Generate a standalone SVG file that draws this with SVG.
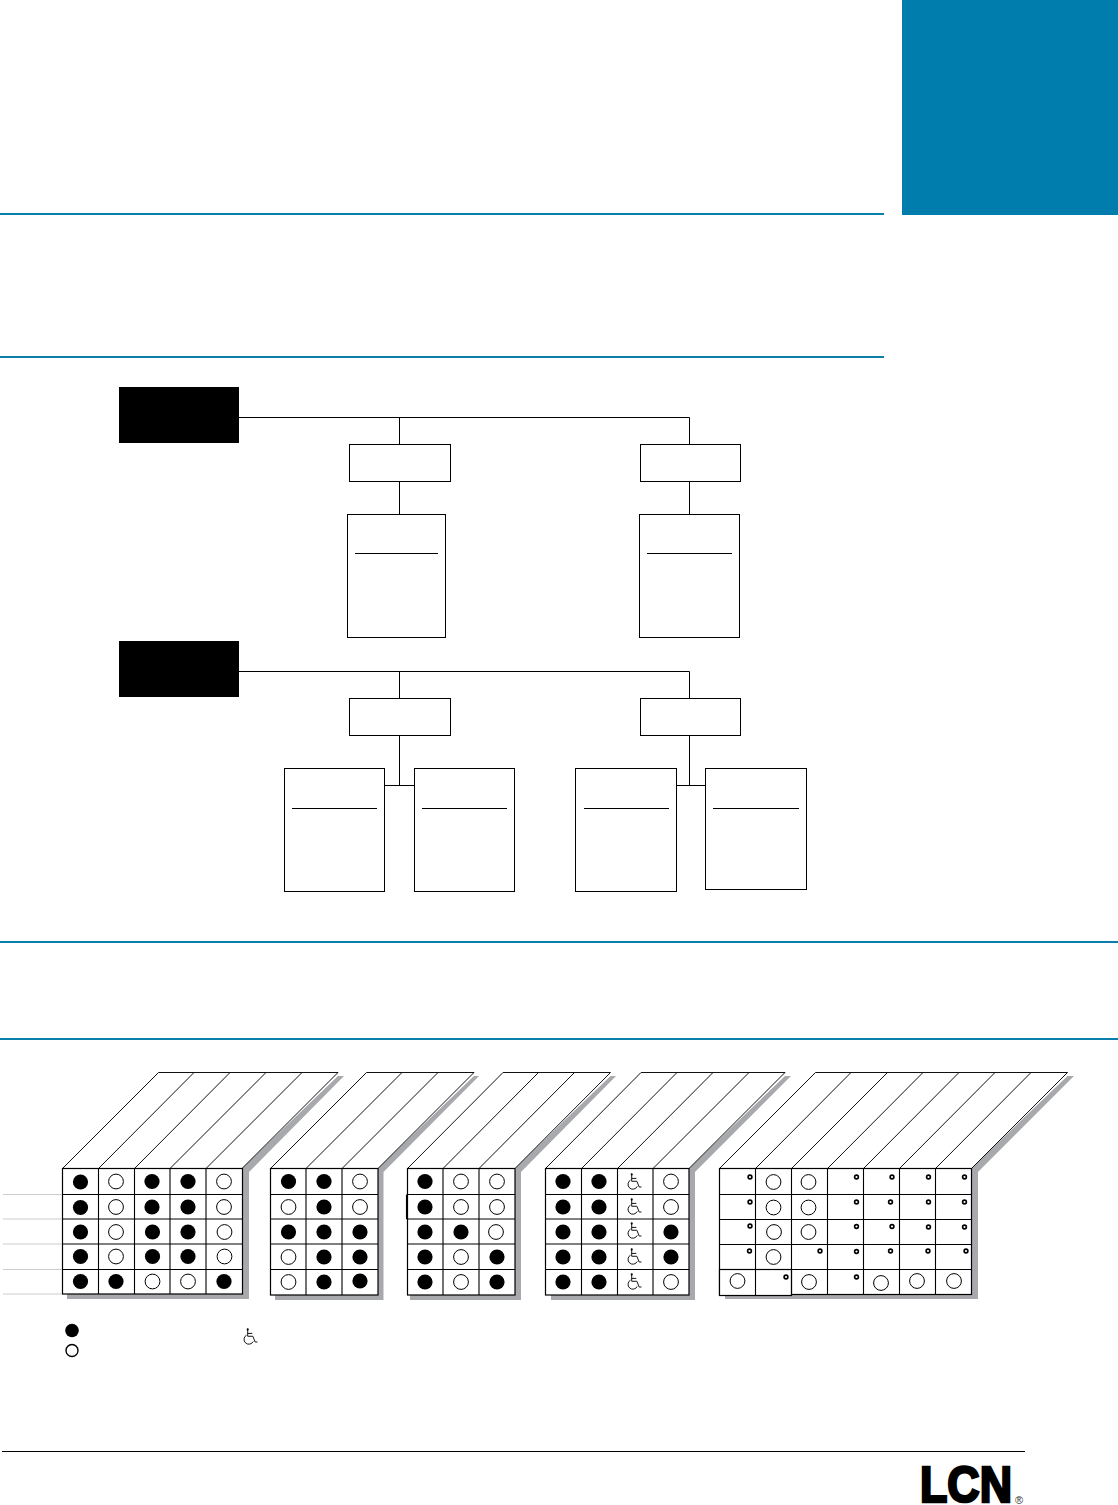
<svg xmlns="http://www.w3.org/2000/svg" width="1118" height="1505" viewBox="0 0 1118 1505">
<style>
.rule{stroke:#0a7fa9;stroke-width:2;fill:none}
.box{fill:#fff;stroke:#000;stroke-width:1}
.blk{fill:#000}
.ln{stroke:#000;stroke-width:1;fill:none}
.grid{fill:#fff;stroke:#000;stroke-width:1.2}
.gl{stroke:#000;stroke-width:1.1;fill:none}
.sl{stroke:#111;stroke-width:1;fill:none}
.sh{fill:#a7a9ac}
.top{fill:#fff;stroke:#111;stroke-width:1}
.f{fill:#000;stroke:none}
.o{fill:#fff;stroke:#000;stroke-width:1}
.d{fill:#fff;stroke:#000;stroke-width:1.6}
.side{stroke:#ccc;stroke-width:1;fill:none}
.wc{fill:none;stroke:#000;stroke-width:.8}
.logo{font-family:"Liberation Sans",Arial,sans-serif;font-weight:700;fill:#000}
</style>
<defs>
<g id="wheel" transform="scale(1.15)"><path class="wc" d="M-2 -7.500V-1.500H2.500L4.500 3.500H6.500M-2 -4H2M-3 -2.500A4.200 4.200 0 1 0 2.800 3"/><circle cx="-2" cy="-7.500" r=".9" class="f"/></g>
<circle id="F" r="7.600" class="f"/>
<circle id="O" r="7.400" class="o"/>
<circle id="D" r="1.900" class="d"/>
</defs>

<rect id="corner-tab" x="902" y="0" width="216" height="215" fill="#007dac"/>
<g id="rules">
<path class="rule" d="M0 214H884M0 357H884M0 942H1118M0 1039H1118"/>
<path d="M2 1451.500H1025" stroke="#000" stroke-width="1" fill="none"/>
</g>

<g id="connectors">
<path class="ln" d="M239 417.500H689.500V444M399.500 417.500V444M399.500 481V514M689.500 481V514"/>
<path class="ln" d="M239 671.500H689.500V698M399.500 671.500V698M399.500 735V785.500M689.500 735V785.500M385 785.500H414M676.500 785.500H705.500"/>
</g>

<g id="header-1"><rect class="blk" x="119" y="387" width="120" height="56"/></g>
<g id="header-2"><rect class="blk" x="119" y="641" width="120" height="56"/></g>
<g id="node-a1"><rect class="box" x="349.500" y="444.500" width="101" height="37"/></g>
<g id="node-a2"><rect class="box" x="640.500" y="444.500" width="100" height="37"/></g>
<g id="node-a3"><rect class="box" x="347.500" y="514.500" width="98" height="123"/><path class="ln" d="M355 553.500H438"/></g>
<g id="node-a4"><rect class="box" x="639.500" y="514.500" width="100" height="123"/><path class="ln" d="M647 553.500H732"/></g>
<g id="node-b1"><rect class="box" x="349.500" y="698.500" width="101" height="37"/></g>
<g id="node-b2"><rect class="box" x="640.500" y="698.500" width="100" height="37"/></g>
<g id="node-b3"><rect class="box" x="284.500" y="768.500" width="100" height="123"/><path class="ln" d="M292 808.500H377"/></g>
<g id="node-b4"><rect class="box" x="414.500" y="768.500" width="100" height="123"/><path class="ln" d="M422 808.500H507"/></g>
<g id="node-b5"><rect class="box" x="575.500" y="768.500" width="101" height="123"/><path class="ln" d="M584 808.500H669"/></g>
<g id="node-b6"><rect class="box" x="705.500" y="768.500" width="101" height="121"/><path class="ln" d="M713 808.500H799"/></g>

<g id="table-1">
<path class="sh" d="M344 1076H338L242 1168V1292H67V1299H249V1172Z"/>
<path class="top" d="M62.500 1168.500L158.500 1072.500H338L242 1168.500Z"/>
<path class="sl" d="M98.500 1168.500L194 1072.500M134.500 1168.500L230 1072.500M170 1168.500L266 1072.500M206 1168.500L302 1072.500"/>
<rect class="grid" x="62.500" y="1168.500" width="180" height="125.500"/>
<path class="gl" d="M62.500 1194.500H242.500M62.500 1219H242.500M62.500 1244H242.500M62.500 1269.500H242.500M98.500 1168.500V1294M134.500 1168.500V1294M170 1168.500V1294M206 1168.500V1294"/>
<path class="side" d="M3 1194.500H62M3 1219H62M3 1244H62M3 1269.500H62M3 1294H62"/>
<use href="#F" x="80.500" y="1182"/><use href="#O" x="116" y="1181.500"/><use href="#F" x="152" y="1181.500"/><use href="#F" x="188" y="1181.500"/><use href="#O" x="224" y="1181.500"/>
<use href="#F" x="80.500" y="1207.500"/><use href="#O" x="116" y="1207"/><use href="#F" x="152" y="1207"/><use href="#F" x="188" y="1207"/><use href="#O" x="224" y="1207"/>
<use href="#F" x="80.500" y="1232"/><use href="#O" x="116" y="1232"/><use href="#F" x="152.500" y="1232"/><use href="#F" x="188" y="1232"/><use href="#O" x="224.500" y="1232"/>
<use href="#F" x="80.500" y="1256.500"/><use href="#O" x="116" y="1256.500"/><use href="#F" x="152.500" y="1256.500"/><use href="#F" x="188" y="1256.500"/><use href="#O" x="224.500" y="1256.500"/>
<use href="#F" x="80.500" y="1281.500"/><use href="#F" x="116" y="1281.500"/><use href="#O" x="152.500" y="1281.500"/><use href="#O" x="188" y="1281.500"/><use href="#F" x="224" y="1281.500"/>
</g>

<g id="table-2">
<path class="sh" d="M479 1076H474L378 1168V1295H275V1300H383.500V1172Z"/>
<path class="top" d="M270.500 1168.500L366.500 1072.500H474L378 1168.500Z"/>
<path class="sl" d="M306 1168.500L402 1072.500M342 1168.500L438 1072.500"/>
<rect class="grid" x="270.500" y="1168.500" width="107.500" height="126.500"/>
<path class="gl" d="M270.500 1194.500H378M270.500 1219H378M270.500 1244H378M270.500 1269.500H378M306 1168.500V1295M342 1168.500V1295"/>
<use href="#F" x="288.500" y="1181.500"/><use href="#F" x="324" y="1181.500"/><use href="#O" x="360" y="1181.500"/>
<use href="#O" x="288.500" y="1207"/><use href="#F" x="324" y="1207"/><use href="#O" x="360" y="1207"/>
<use href="#F" x="288.500" y="1232"/><use href="#F" x="324" y="1232"/><use href="#F" x="360" y="1232"/>
<use href="#O" x="288.500" y="1257"/><use href="#F" x="324" y="1257"/><use href="#F" x="360" y="1257"/>
<use href="#O" x="288.500" y="1282"/><use href="#F" x="324" y="1282"/><use href="#F" x="360" y="1281"/>
</g>

<g id="table-3">
<path class="sh" d="M616 1076H610.500L515 1168V1295H410V1300H521V1172Z"/>
<path class="top" d="M407.500 1168.500L503 1072.500H610.500L515 1168.500Z"/>
<path class="sl" d="M443 1168.500L538.500 1072.500M479 1168.500L574.500 1072.500"/>
<rect class="grid" x="407.500" y="1168.500" width="107.500" height="126.500"/>
<path class="gl" d="M407.500 1194.500H515M406.500 1219H515M407.500 1244H515M407.500 1269.500H515M443 1168.500V1295M479 1168.500V1295M406.500 1194.500V1219"/>
<use href="#F" x="425" y="1181.500"/><use href="#O" x="461" y="1181.500"/><use href="#O" x="497" y="1181.500"/>
<use href="#F" x="425" y="1207"/><use href="#O" x="461" y="1207"/><use href="#O" x="497" y="1207"/>
<use href="#F" x="425" y="1232"/><use href="#F" x="461" y="1232"/><use href="#O" x="496" y="1232"/>
<use href="#F" x="425" y="1257"/><use href="#O" x="461" y="1257"/><use href="#F" x="497" y="1257"/>
<use href="#F" x="425" y="1282"/><use href="#O" x="461" y="1282"/><use href="#F" x="497" y="1282"/>
</g>

<g id="table-4">
<path class="sh" d="M791 1076H785L689 1168V1295H551V1300H695V1172Z"/>
<path class="top" d="M545.500 1168.500L641 1072.500H785L689 1168.500Z"/>
<path class="sl" d="M581.500 1168.500L677 1072.500M617.500 1168.500L713 1072.500M653 1168.500L749 1072.500"/>
<rect class="grid" x="545.500" y="1168.500" width="143.500" height="126.500"/>
<path class="gl" d="M545.500 1194.500H689M545.500 1219H689M545.500 1244H689M545.500 1269.500H689M581.500 1168.500V1295M617.500 1168.500V1295M653 1168.500V1295"/>
<use href="#F" x="563" y="1181.500"/><use href="#F" x="599" y="1181.500"/><use href="#wheel" x="634" y="1183"/><use href="#O" x="671" y="1181.500"/>
<use href="#F" x="563" y="1207"/><use href="#F" x="599" y="1207"/><use href="#wheel" x="634" y="1208"/><use href="#O" x="671" y="1207"/>
<use href="#F" x="563" y="1232"/><use href="#F" x="599" y="1232"/><use href="#wheel" x="634" y="1232"/><use href="#F" x="671" y="1232"/>
<use href="#F" x="563" y="1257"/><use href="#F" x="599" y="1257"/><use href="#wheel" x="634" y="1258"/><use href="#F" x="671" y="1257"/>
<use href="#F" x="563" y="1282"/><use href="#F" x="599" y="1282"/><use href="#wheel" x="634" y="1283"/><use href="#O" x="671" y="1282"/>
</g>

<g id="table-5">
<path class="sh" d="M1074 1076H1067.500L971.500 1168V1294H725V1299H978V1172Z"/>
<path class="top" d="M719.500 1168.500L815.500 1072.500H1067.500L971.500 1168.500Z"/>
<path class="sl" d="M755.500 1168.500L851 1072.500M791.500 1168.500L887.500 1072.500M827.500 1168.500L923 1072.500M863.500 1168.500L959 1072.500M899.500 1168.500L995 1072.500M935.500 1168.500L1031 1072.500"/>
<rect class="grid" x="719.500" y="1168.500" width="252" height="126"/>
<rect class="grid" x="719.500" y="1269.500" width="72" height="26"/>
<path class="gl" d="M719.500 1194.500H971.500M719.500 1219.500H971.500M719.500 1244.500H971.500M719.500 1269.500H971.500M755.500 1168.500V1295M791.500 1168.500V1295M827.500 1168.500V1294M863.500 1168.500V1294M899.500 1168.500V1294M935.500 1168.500V1294"/>
<use href="#D" x="750" y="1177"/><use href="#O" x="773.500" y="1182"/><use href="#O" x="808.500" y="1182"/><use href="#D" x="856.500" y="1177"/><use href="#D" x="892" y="1177"/><use href="#D" x="928.500" y="1177"/><use href="#D" x="964.500" y="1177"/>
<use href="#D" x="750" y="1202"/><use href="#O" x="773.500" y="1207.500"/><use href="#O" x="808.500" y="1207.500"/><use href="#D" x="856.500" y="1202"/><use href="#D" x="890.500" y="1202"/><use href="#D" x="928.500" y="1202"/><use href="#D" x="964.500" y="1202"/>
<use href="#D" x="750" y="1226"/><use href="#O" x="774" y="1232"/><use href="#O" x="808.500" y="1232"/><use href="#D" x="856.500" y="1226.500"/><use href="#D" x="892" y="1226.500"/><use href="#D" x="928.500" y="1227"/><use href="#D" x="964.500" y="1227"/>
<use href="#D" x="749.500" y="1251"/><use href="#O" x="773.500" y="1257"/><use href="#D" x="820" y="1251"/><use href="#D" x="856.500" y="1251.500"/><use href="#D" x="890.500" y="1251"/><use href="#D" x="928" y="1251"/><use href="#D" x="966" y="1251"/>
<use href="#O" x="737.500" y="1281"/><use href="#D" x="786" y="1277"/><use href="#O" x="809" y="1282"/><use href="#D" x="856.500" y="1277"/><use href="#O" x="881" y="1283"/><use href="#O" x="917" y="1281"/><use href="#O" x="954" y="1281"/>
</g>

<g id="legend">
<circle cx="72" cy="1330.500" r="6.800" class="f"/>
<circle cx="72" cy="1350.500" r="6" fill="#fff" stroke="#000" stroke-width="1.400"/>
<use href="#wheel" x="250" y="1338"/>
</g>

<g id="logo">
<text class="logo" x="920" y="1502" font-size="50" textLength="92" lengthAdjust="spacingAndGlyphs" stroke="#000" stroke-width="2.600">LCN</text>
<text x="1015" y="1504" font-size="11" font-family="Liberation Sans, Arial, sans-serif" fill="#333">®</text>
</g>
</svg>
